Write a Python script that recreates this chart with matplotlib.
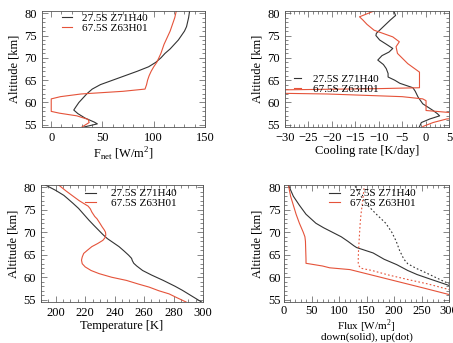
import numpy as np
import matplotlib
matplotlib.use("Agg")
import matplotlib.pyplot as plt
from matplotlib.ticker import MultipleLocator

plt.rcParams['font.family'] = ['Liberation Serif', 'DejaVu Serif']
plt.rcParams['mathtext.fontset'] = 'custom'
plt.rcParams['mathtext.rm'] = 'Liberation Serif'
plt.rcParams['font.size'] = 9

BLACK = '#333333'
RED = '#e5533a'
labels = ['27.5S Z71H40', '67.5S Z63H01']

# net flux [W/m2]
fnet_alt_a = [54.5, 55.2, 55.6, 56.5, 57.5, 58.3, 59, 60, 61, 62, 63, 64, 65, 66, 67, 68,
              69, 70, 71, 72, 73, 74, 75, 76, 77, 78, 79, 80.5]
fnet_a = [32, 45, 42, 33, 26, 22, 24, 27, 31, 35, 40, 48, 60, 72, 84, 95,
          102, 107, 111, 116, 120, 124, 127, 130, 132, 133, 134, 135]
fnet_alt_b = [54.5, 55.5, 56.2, 57, 57.6, 58, 60.8, 61.3, 61.9, 62.5, 63, 64, 65, 66, 67, 68,
              69, 70, 71, 72, 73, 74, 75, 76, 77, 78, 79, 80.5]
fnet_b = [30, 37, 36, 25, 8, 0, 0, 9, 29, 70, 91.5, 93, 94, 95.5, 97.5, 100,
          103, 105, 107, 108.5, 110, 112, 114, 116, 117.5, 119, 120.5, 122]

# cooling rate [K/day]
cool_alt_a = [54.6, 55.5, 56.3, 57, 57.5, 58.2, 59.7, 61.2, 62.5, 63.3, 64.3, 65, 65.7, 66.5,
              67.6, 68.5, 69.5, 70.5, 71.3, 72.1, 73, 74, 75, 75.5, 76.5, 77.5, 78.5, 79.5, 80.5]
cool_a = [-1.3, -0.9, 0.9, 3, 2.5, 1.6, -0.6, -1.6, -2.2, -2.7, -5.5, -6.6, -8, -8,
          -8.4, -9, -10.2, -9.3, -7.8, -7, -8.3, -9.8, -10.6, -10.5, -9.5, -8.5, -7.5, -6.4, -6.8]
cool_alt_b = [54.6, 55.5, 56.3, 56.5, 57.6, 57.8, 58.2, 60.4, 60.8, 61.3, 61.9, 62.2, 62.5, 62.7,
              63.1, 63.3, 66.8, 68.7, 71, 72.5, 73.6, 74.7, 76.2, 77.5, 78.5, 79.2, 80.5]
cool_b = [-0.6, 1.6, 4.5, 7, 7, 4.5, 0.1, 0.1, -0.6, -5, -21, -40, -60, -40,
          -10, -1.3, -1.3, -3.8, -6, -6.3, -5.6, -7, -11, -12.5, -13.4, -14.1, -11]

# temperature [K]
temp_alt_a = [54.5, 55.5, 57.1, 58, 59.3, 60.5, 61.5, 62.5, 63.1, 63.7, 64.2, 64.9, 65.8, 66.8,
              67.7, 68.6, 69.5, 70.5, 71.5, 72.7, 74, 75.3, 76.5, 77.5, 78.2, 79.3, 80.5]
temp_a = [299, 294, 286, 281, 273, 265, 259, 255, 253, 252, 251.5, 249.5, 246.5, 243,
          239, 235, 232, 229, 226, 222.5, 219, 215.5, 211.5, 208, 205.5, 200, 193]
temp_alt_b = [54.5, 55.5, 56.3, 57, 57.8, 58.5, 59.3, 60, 60.8, 61.5, 62.3, 63, 63.8, 64.5,
              65.3, 66, 66.8, 67.5, 68.2, 68.8, 69.4, 70, 70.5, 71.2, 72, 73, 73.5, 74.5, 75.2,
              75.8, 76.3, 77, 78.2, 79.3, 80.5]
temp_b = [288.5, 282, 277, 270, 263.5, 256, 248, 238, 229.5, 224, 220, 218, 217.5, 218,
          219, 221.5, 224.5, 228.5, 232, 233.5, 234, 233.8, 233, 231.5, 230, 228, 226.5, 224.5, 223.5,
          222, 219.5, 216, 211, 206.5, 202]

# fluxes [W/m2], down (solid) and up (dotted)
down_alt_a = [58.1, 59.5, 60.6, 61.5, 62.8, 64, 65.4, 66.6, 67, 68, 69, 70, 71, 72, 74, 76, 78, 80.5]
down_a = [302, 268, 242, 225, 205, 182, 162, 132, 127, 116, 104, 88, 72, 58, 40, 28, 17, 8]
down_alt_b = [56.1, 57.6, 59.1, 60.6, 61.7, 62.1, 62.5, 62.8, 63.1, 64, 66, 68, 69, 70, 72, 74,
              76, 78, 80.5]
down_b = [302, 254, 205, 156, 120, 83, 70, 55, 40, 40, 39.5, 39, 38, 35, 28, 22, 17, 12, 8]
up_alt_a = [58.5, 59, 60, 61, 62, 63, 64, 66, 68, 70, 72, 74, 76, 78, 80.5]
up_a = [302, 292, 275, 258, 240, 225, 218, 210, 204, 196, 185, 168, 152, 140, 128]
up_alt_b = [57.2, 58.5, 59.5, 60.5, 61.5, 62, 62.4, 63, 64, 66, 68, 70, 72, 74, 76, 78, 80.5]
up_b = [302, 262, 225, 190, 160, 140, 137, 135, 135, 135.5, 136.5, 137.5, 138.5, 140, 142, 144, 146]


def style_axes(ax, xlim, xmajor, xminor, xlabel, labelsize=9, pad=3.5):
    """Apply IDL-like frame: inward ticks on all sides."""
    ax.set_xlim(*xlim)
    ax.set_ylim(54.5, 80.5)
    ax.xaxis.set_major_locator(MultipleLocator(xmajor))
    ax.xaxis.set_minor_locator(MultipleLocator(xminor))
    ax.yaxis.set_major_locator(MultipleLocator(5))
    ax.yaxis.set_minor_locator(MultipleLocator(1))
    ax.tick_params(which='both', direction='in', top=True, right=True, width=0.5, color='#555555')
    ax.tick_params(which='major', length=4, labelsize=9, pad=pad)
    ax.tick_params(which='minor', length=2)
    for s in ax.spines.values():
        s.set_linewidth(0.6)
        s.set_color('#555555')
    ax.set_ylabel('Altitude [km]', fontsize=9, labelpad=3)
    ax.set_xlabel(xlabel, fontsize=labelsize, labelpad=1)


def add_legend(ax, x, y, hl, pad):
    ax.legend(loc='upper left', bbox_to_anchor=(x, y), frameon=False, borderpad=0,
              borderaxespad=0, labelspacing=0.0, handlelength=hl, handletextpad=pad,
              fontsize=8)


fig = plt.figure(figsize=(4.53, 3.43), dpi=100)
ax1 = fig.add_axes([42 / 453, 1 - 127 / 343, 163 / 453, 116 / 343])
ax2 = fig.add_axes([285 / 453, 1 - 127 / 343, 164 / 453, 116 / 343])
ax3 = fig.add_axes([41 / 453, 1 - 302 / 343, 162 / 453, 117 / 343])
ax4 = fig.add_axes([284 / 453, 1 - 302 / 343, 165 / 453, 117 / 343])

lw = 0.8
ax1.plot(fnet_a, fnet_alt_a, color=BLACK, lw=lw, label=labels[0])
ax1.plot(fnet_b, fnet_alt_b, color=RED, lw=lw, label=labels[1])
style_axes(ax1, (-9, 150), 50, 10, r'F$_{\mathrm{net}}$ [W/m$^{2}$]')
add_legend(ax1, 0.12, 0.978, 0.9, 0.9)

ax2.plot(cool_a, cool_alt_a, color=BLACK, lw=lw, label=labels[0])
ax2.plot(cool_b, cool_alt_b, color=RED, lw=lw, label=labels[1])
style_axes(ax2, (-30, 5), 5, 1, 'Cooling rate [K/day]')
add_legend(ax2, 0.055, 0.454, 0.6, 1.1)

ax3.plot(temp_a, temp_alt_a, color=BLACK, lw=lw, label=labels[0])
ax3.plot(temp_b, temp_alt_b, color=RED, lw=lw, label=labels[1])
style_axes(ax3, (190, 300), 20, 5, 'Temperature [K]')
add_legend(ax3, 0.27, 0.969, 1.05, 1.35)

ax4.plot(down_a, down_alt_a, color=BLACK, lw=lw, label=labels[0])
ax4.plot(down_b, down_alt_b, color=RED, lw=lw, label=labels[1])
ax4.plot(up_a, up_alt_a, color=BLACK, lw=lw, ls=(0, (1.5, 2)))
ax4.plot(up_b, up_alt_b, color=RED, lw=lw, ls=(0, (1.5, 2)))
style_axes(ax4, (0, 300), 50, 10, 'Flux [W/m$^{2}$]', labelsize=8, pad=2.5)
ax4.xaxis.set_label_coords(0.5, -0.135)
ax4.text(0.5, -0.346, 'down(solid), up(dot)', transform=ax4.transAxes,
         ha='center', va='bottom', fontsize=8)
add_legend(ax4, 0.27, 0.969, 1.05, 0.9)

fig.savefig('out.png', dpi=100)
